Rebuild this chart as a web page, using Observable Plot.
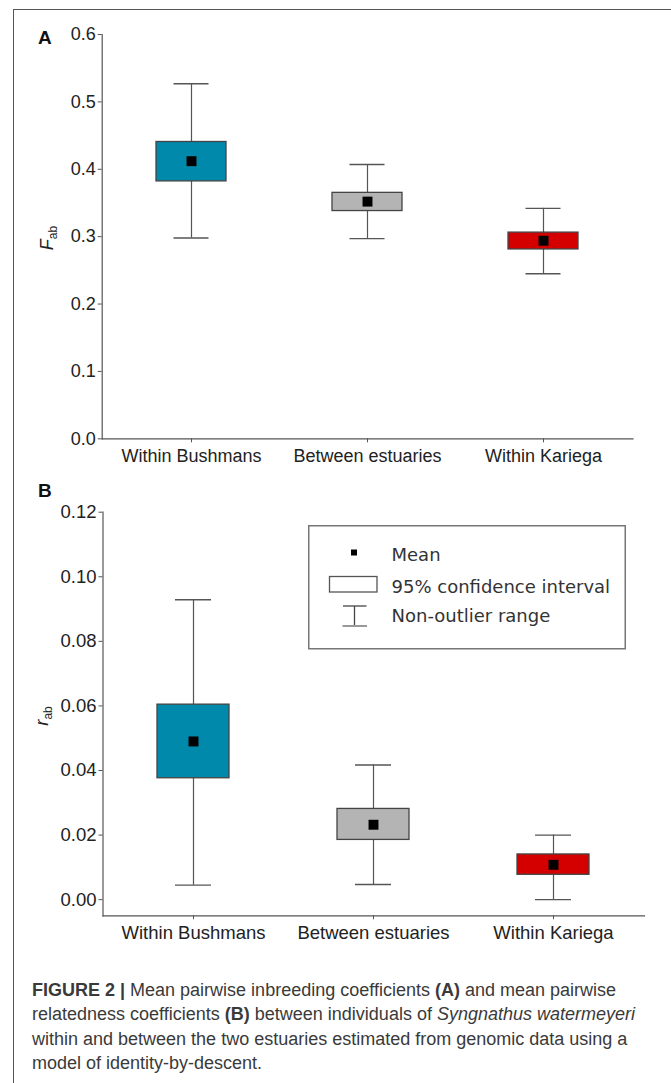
<!DOCTYPE html>
<html><head><meta charset="utf-8">
<script src="https://cdn.jsdelivr.net/npm/d3@7"></script>
<script src="https://cdn.jsdelivr.net/npm/@observablehq/plot@0.6"></script>
<style>
body{margin:0;background:#fff;}
#page{position:relative;width:671px;height:1083px;overflow:hidden;background:#fff;font-family:"Liberation Sans",Arial,sans-serif;}
#frame{position:absolute;left:13px;top:9px;width:700px;height:1100px;border-top:1.5px solid #555;border-left:1.5px solid #555;z-index:10;pointer-events:none;}
.panel{position:absolute;left:0;}
.plabel{position:absolute;left:38px;font-weight:bold;font-size:19px;line-height:19px;color:#111;z-index:5;}
#caption{position:absolute;left:32px;top:977.5px;font-size:18px;line-height:24.5px;color:#3a3a3a;white-space:nowrap;}
#legend{position:absolute;left:307.5px;top:525px;z-index:5;}
</style></head>
<body>
<div id="page">
  <div id="panelA" class="panel" style="top:0px"></div>
  <div id="panelB" class="panel" style="top:470px"></div>
  <div class="plabel" style="top:28px">A</div>
  <div class="plabel" style="top:481px">B</div>
  <div id="legend"></div>
  <div id="caption"></div>
  <div id="frame"></div>
</div>
<script>
const categories = ["Within Bushmans", "Between estuaries", "Within Kariega"];
const colors = ["#0089aa", "#b4b4b4", "#d40000"];

// Panel A: F_ab
const fabMean   = [0.412, 0.352, 0.294];
const fabCILow  = [0.382, 0.338, 0.281];
const fabCIHigh = [0.4405, 0.365, 0.306];
const fabMin    = [0.298, 0.297, 0.245];
const fabMax    = [0.527, 0.407, 0.342];
const fabTicks  = [0.0, 0.1, 0.2, 0.3, 0.4, 0.5, 0.6];

// Panel B: r_ab
const rabMean   = [0.0490, 0.0232, 0.0108];
const rabCILow  = [0.0376, 0.0185, 0.0077];
const rabCIHigh = [0.0604, 0.0281, 0.0140];
const rabMin    = [0.0045, 0.0047, 0.0000];
const rabMax    = [0.0929, 0.0417, 0.0200];
const rabTicks  = [0.00, 0.02, 0.04, 0.06, 0.08, 0.10, 0.12];

const legendLabels = ["Mean", "95% confidence interval", "Non-outlier range"];

function panel(o) {
  const data = categories.map((c, i) => ({cat: c, mean: o.mean[i], lo: o.lo[i], hi: o.hi[i], min: o.min[i], max: o.max[i]}));
  const fs = o.fontSize;
  const svg = Plot.plot({
    width: 671, height: o.height,
    marginTop: o.mt, marginBottom: o.mb, marginLeft: o.ml, marginRight: o.mr,
    style: {fontFamily: "'Liberation Sans', Arial, sans-serif", fontSize: fs + "px", color: "#222", background: "transparent", overflow: "visible"},
    x: {domain: categories, paddingInner: 0.6, paddingOuter: 0.3, label: null},
    y: {domain: o.domain, label: null},
    color: {domain: categories, range: colors},
    marks: [
      Plot.ruleX(data, {x: "cat", y1: "min", y2: "max", stroke: "#555", strokeWidth: 1.2}),
      Plot.tickY(data, {x: "cat", y: "min", stroke: "#555", strokeWidth: 1.4, insetLeft: o.capInset, insetRight: o.capInset}),
      Plot.tickY(data, {x: "cat", y: "max", stroke: "#555", strokeWidth: 1.4, insetLeft: o.capInset, insetRight: o.capInset}),
      Plot.barY(data, {x: "cat", y1: "lo", y2: "hi", fill: "cat", stroke: "#444", strokeWidth: 1.3}),
      Plot.dot(data, {x: "cat", y: "mean", symbol: "square", r: 5.6, fill: "#000", stroke: null}),
      Plot.axisY({ticks: o.ticks, tickFormat: o.fmt, tickSize: 4, tickPadding: 2.5, stroke: "#555", label: null, fontSize: fs}),
      Plot.axisX({tickSize: 4, tickPadding: o.xpad, stroke: "#555", label: null, fontSize: o.xfs}),
      Plot.frame({anchor: "left", stroke: "#555", strokeWidth: 1.2}),
      Plot.frame({anchor: "bottom", stroke: "#555", strokeWidth: 1.2})
    ]
  });
  const t = d3.select(svg).append("text")
    .attr("transform", `translate(${o.labX},${o.labY}) rotate(-90)`)
    .attr("text-anchor", "middle")
    .attr("fill", "#222")
    .style("font-family", "'Liberation Sans', Arial, sans-serif");
  t.append("tspan").text(o.labMain).style("font-style", "italic").style("font-size", fs + "px");
  t.append("tspan").text(o.labSub).attr("dy", 4).style("font-size", "12px");
  return svg;
}

document.getElementById("panelA").appendChild(panel({
  mean: fabMean, lo: fabCILow, hi: fabCIHigh, min: fabMin, max: fabMax,
  domain: [0, 0.6], ticks: fabTicks, fmt: d3.format(".1f"),
  height: 470, mt: 34, mb: 31.7, ml: 101.7, mr: 38.5, fontSize: 18, xfs: 18, xpad: 6, capInset: 17.5,
  labX: 53, labY: 238, labMain: "F", labSub: "ab"
}));

document.getElementById("panelB").appendChild(panel({
  mean: rabMean, lo: rabCILow, hi: rabCIHigh, min: rabMin, max: rabMax,
  domain: [-0.005, 0.12], ticks: rabTicks, fmt: d3.format(".2f"),
  height: 500, mt: 41.7, mb: 54.7, ml: 102.5, mr: 27, fontSize: 18.5, xfs: 18.5, xpad: 6.5, capInset: 18,
  labX: 48, labY: 246, labMain: "r", labSub: "ab"
}));

// Legend (inside panel B)
const lg = d3.select("#legend").append("svg").attr("width", 318).attr("height", 125);
lg.append("rect").attr("x", 0.75).attr("y", 0.75).attr("width", 316.5).attr("height", 123).attr("fill", "#fff").attr("stroke", "#777").attr("stroke-width", 1.5);
lg.append("rect").attr("x", 43).attr("y", 24.5).attr("width", 6).attr("height", 6).attr("fill", "#000");
lg.append("rect").attr("x", 21.5).attr("y", 51.5).attr("width", 47.5).attr("height", 15.5).attr("fill", "#fff").attr("stroke", "#555").attr("stroke-width", 1.3);
lg.append("line").attr("x1", 46.5).attr("x2", 46.5).attr("y1", 81).attr("y2", 101).attr("stroke", "#444").attr("stroke-width", 1.3);
lg.append("line").attr("x1", 35).attr("x2", 58.5).attr("y1", 81).attr("y2", 81).attr("stroke", "#444").attr("stroke-width", 1.3);
lg.append("line").attr("x1", 34.5).attr("x2", 59).attr("y1", 101).attr("y2", 101).attr("stroke", "#999").attr("stroke-width", 2);
const ly = [36, 67.5, 97];
legendLabels.forEach((s, i) => {
  lg.append("text").attr("x", 83.5).attr("y", ly[i]).text(s)
    .attr("fill", "#333").style("font-family", "'DejaVu Sans', Verdana, sans-serif").style("font-size", "18px");
});

// Caption
const captionLines = [
  "<b>FIGURE 2 |</b> Mean pairwise inbreeding coefficients <b>(A)</b> and mean pairwise",
  "relatedness coefficients <b>(B)</b> between individuals of <i>Syngnathus watermeyeri</i>",
  "within and between the two estuaries estimated from genomic data using a",
  "model of identity-by-descent."
];
document.getElementById("caption").innerHTML = captionLines.join("<br>");
</script>
</body></html>
